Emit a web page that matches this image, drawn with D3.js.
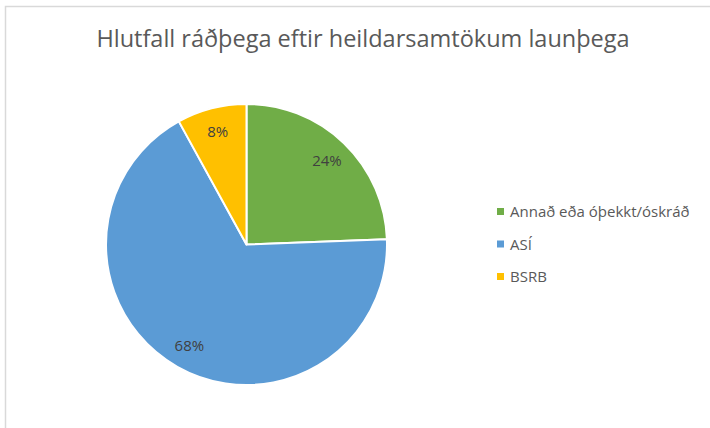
<!DOCTYPE html>
<html>
<head>
<meta charset="utf-8">
<script src="https://cdn.jsdelivr.net/npm/d3@7"></script>
<style>
    body { margin: 0; background: #fff; }
    svg { display: block; font-family: "Open Sans", "Noto Sans", sans-serif; }
</style>
</head>
<body>
<script>
const title = "Hlutfall ráðþega eftir heildarsamtökum launþega";
const categories = ["Annað eða óþekkt/óskráð", "ASÍ", "BSRB"];
const shares = [24.4, 67.6, 8.0];
const colors = ["#70AD47", "#5B9BD5", "#FFC000"];

const width = 710;
const height = 428;

const svg = d3.select(document.body).append("svg")
    .attr("width", width)
    .attr("height", height);

// chart frame (only top and left edges fall inside the picture)
svg.append("path")
    .attr("d", `M5.5,${height} V6.5 H${width}`)
    .attr("fill", "none")
    .attr("stroke", "#d9d9d9")
    .attr("stroke-width", 1.5);

// title
svg.append("text")
    .text(title)
    .attr("x", 363)
    .attr("y", 47)
    .attr("text-anchor", "middle")
    .attr("fill", "#595959")
    .style("font-size", "23.5px");

// pie
const center = {x: 246.5, y: 244.5};
const radius = 140.5;

const data = categories.map((c, i) => ({name: c, value: shares[i], color: colors[i]}));

const pie = d3.pie()
    .sort(null)
    .value(d => d.value);

const arc = d3.arc()
    .innerRadius(0)
    .outerRadius(radius);

const labelArc = d3.arc()
    .innerRadius(116)
    .outerRadius(116);

const g = svg.append("g")
    .attr("transform", `translate(${center.x},${center.y})`);

const arcs = pie(data);

g.selectAll("path.slice")
    .data(arcs)
    .join("path")
    .attr("class", "slice")
    .attr("d", arc)
    .attr("fill", d => d.data.color)
    .attr("stroke", "#fff")
    .attr("stroke-width", 2)
    .attr("stroke-linejoin", "round");

g.selectAll("text.label")
    .data(arcs)
    .join("text")
    .attr("class", "label")
    .attr("transform", d => `translate(${labelArc.centroid(d)})`)
    .attr("text-anchor", "middle")
    .attr("dy", "0.35em")
    .attr("fill", "#404040")
    .style("font-size", "15px")
    .text(d => Math.round(d.data.value) + "%");

// legend
const legend = svg.append("g")
    .attr("transform", "translate(497,212)");

const rows = legend.selectAll("g")
    .data(data)
    .join("g")
    .attr("transform", (d, i) => `translate(0,${i * 32.5})`);

rows.append("rect")
    .attr("x", 0)
    .attr("y", -4)
    .attr("width", 7)
    .attr("height", 7)
    .attr("fill", d => d.color);

rows.append("text")
    .attr("x", 13)
    .attr("y", 0)
    .attr("dy", "0.35em")
    .attr("fill", "#595959")
    .style("font-size", "15px")
    .text(d => d.name);
</script>
</body>
</html>
